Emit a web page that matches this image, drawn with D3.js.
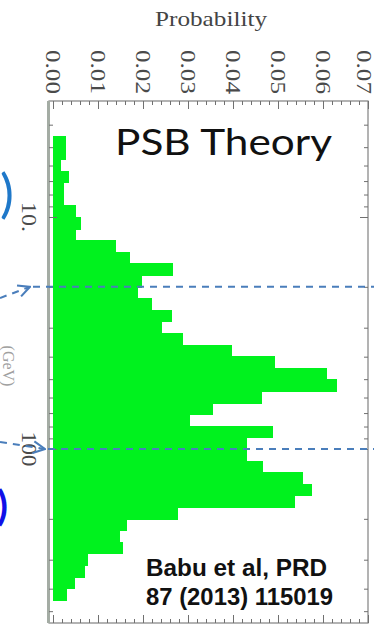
<!DOCTYPE html>
<html><head><meta charset="utf-8">
<script src="https://cdn.jsdelivr.net/npm/d3@7"></script>
<style>html,body{margin:0;padding:0;background:#fff;overflow:hidden}</style>
</head><body><svg id="c" width="374" height="625"></svg>
<script>
// ---- data ----
const binEdgesLog10 = [0.65,0.70,0.75,0.80,0.85,0.90,0.95,1.00,1.05,1.10,1.15,1.20,1.25,1.30,1.35,1.40,1.45,1.50,1.55,1.60,1.65,1.70,1.75,1.80,1.85,1.90,1.95,2.00,2.05,2.10,2.15,2.20,2.25,2.30,2.35,2.40,2.45,2.50,2.55,2.60,2.65];
const probability = [0.0029,0.0029,0.0018,0.0036,0.0024,0.0024,0.0051,0.0062,0.0051,
  0.0140,0.0171,0.0267,0.0198,0.0189,0.0220,0.0264,0.0242,0.0289,
  0.0398,0.0493,0.0609,0.0631,0.0464,0.0356,0.0304,0.0489,
  0.0431,0.0431,0.0467,0.0556,0.0576,0.0538,0.0278,
  0.0164,0.0149,0.0156,0.0078,0.0071,0.0049,0.0031];
const probTicks = [0,0.01,0.02,0.03,0.04,0.05,0.06,0.07];
const probTickLabels = ["0.00","0.01","0.02","0.03","0.04","0.05","0.06","0.07"];
const probMinorTicks = [0.002,0.004,0.006,0.008,0.012,0.014,0.016,0.018,0.022,0.024,0.026,0.028,0.032,0.034,0.036,0.038,0.042,0.044,0.046,0.048,0.052,0.054,0.056,0.058,0.062,0.064,0.066,0.068];
const massTicks = [10,100];
const massTickLabels = ["10.","100"];
const massMinorTicks = [4,5,6,7,8,9,20,30,40,50,60,70,80,90,200,300,400,500];
const markerMasses = [20,100];
const massDomainLog10 = [0.5,2.75];

// ---- scales ----
const svg = d3.select("#c");
const x = d3.scaleLinear().domain([0,0.07]).range([53,368]);
const y = d3.scaleLog().domain(massDomainLog10.map(v=>Math.pow(10,v))).range([101,623]);

// bars
const bins = probability.map((p,i)=>({p, lo:Math.pow(10,binEdgesLog10[i]), hi:Math.pow(10,binEdgesLog10[i+1])}));
svg.append("g").attr("shape-rendering","crispEdges").selectAll("rect").data(bins).join("rect")
  .attr("x", x(0)).attr("y", d=>Math.round(y(d.lo)))
  .attr("width", d=>x(d.p)-x(0)).attr("height", d=>Math.round(y(d.hi))-Math.round(y(d.lo))+1)
  .attr("fill","#00f21e");

// frame
svg.append("rect").attr("x",49).attr("y",101).attr("width",319).attr("height",522)
  .attr("fill","none").attr("stroke","#808080").attr("stroke-width",1.2);
svg.append("line").attr("x1",48.5).attr("x2",48.5).attr("y1",101).attr("y2",623)
  .attr("stroke","#a4aca4").attr("stroke-width",3);

function styleAxis(g){ g.select(".domain").remove(); g.selectAll("line").attr("stroke","#707070"); }
// top / bottom ticks (inward)
svg.append("g").attr("transform","translate(0,101)").call(d3.axisBottom(x).tickValues(probMinorTicks).tickSize(4).tickFormat("")).call(styleAxis);
svg.append("g").attr("transform","translate(0,101)").call(d3.axisBottom(x).tickValues(probTicks).tickSize(8).tickFormat("")).call(styleAxis);
svg.append("g").attr("transform","translate(0,623)").call(d3.axisTop(x).tickValues(probMinorTicks).tickSize(4).tickFormat("")).call(styleAxis);
svg.append("g").attr("transform","translate(0,623)").call(d3.axisTop(x).tickValues(probTicks).tickSize(8).tickFormat("")).call(styleAxis);
// left / right ticks (inward)
svg.append("g").attr("transform","translate(49,0)").call(d3.axisRight(y).tickValues(massMinorTicks).tickSize(4).tickFormat("")).call(styleAxis);
svg.append("g").attr("transform","translate(49,0)").call(d3.axisRight(y).tickValues(massTicks).tickSize(8).tickFormat("")).call(styleAxis);
svg.append("g").attr("transform","translate(368,0)").call(d3.axisLeft(y).tickValues(massMinorTicks).tickSize(4).tickFormat("")).call(styleAxis);
svg.append("g").attr("transform","translate(368,0)").call(d3.axisLeft(y).tickValues(massTicks).tickSize(8).tickFormat("")).call(styleAxis);

// tick labels (rotated)
svg.append("g").selectAll("text").data(probTicks).join("text")
  .attr("transform", d=>`translate(${Math.min(x(d),364)},50) rotate(90)`)
  .attr("dy","0.35em").attr("text-anchor","start")
  .attr("font-family","'Liberation Serif',serif").attr("font-size",20).attr("fill","#4a4a4a")
  .attr("textLength",44).attr("lengthAdjust","spacingAndGlyphs")
  .text((d,i)=>probTickLabels[i]);
svg.append("g").selectAll("text").data(massTicks).join("text")
  .attr("transform", d=>`translate(29,${y(d)}) rotate(90)`)
  .attr("dy","0.35em").attr("text-anchor","middle")
  .attr("font-family","'Liberation Serif',serif").attr("font-size",20).attr("fill","#4a4a4a")
  .attr("textLength",(d,i)=>i===0?30:35).attr("lengthAdjust","spacingAndGlyphs")
  .text((d,i)=>massTickLabels[i]);

// axis titles
svg.append("text").attr("x",211).attr("y",26).attr("text-anchor","middle")
  .attr("font-family","'Liberation Serif',serif").attr("font-size",22).attr("fill","#444")
  .attr("textLength",112).attr("lengthAdjust","spacingAndGlyphs").text("Probability");
svg.append("text").attr("transform","translate(9,366) rotate(90)").attr("dy","0.35em").attr("text-anchor","middle")
  .attr("font-family","'Liberation Serif',serif").attr("font-size",16).attr("fill","#a0a0a0").text("(GeV)");

// marker lines with arrows
const defs = svg.append("defs");
defs.append("marker").attr("id","arr").attr("viewBox","0 0 12 12").attr("refX",11).attr("refY",6)
  .attr("markerWidth",14).attr("markerHeight",14).attr("markerUnits","userSpaceOnUse").attr("orient","auto")
  .append("path").attr("d","M1,1 L11,6 L1,11").attr("fill","none").attr("stroke","#4a7ebb").attr("stroke-width",1.8);
const arrowStarts = [[0,298,30],[0,442,45]];
markerMasses.forEach((m,i)=>{
  const [sx,sy,tx] = arrowStarts[i];
  svg.append("line").attr("x1",sx).attr("y1",sy).attr("x2",tx).attr("y2",y(m))
    .attr("stroke","#4a7ebb").attr("stroke-width",2).attr("stroke-dasharray","7,6").attr("marker-end","url(#arr)");
  svg.append("line").attr("x1",tx+3).attr("x2",374).attr("y1",y(m)).attr("y2",y(m))
    .attr("stroke","#4a7ebb").attr("stroke-width",2).attr("stroke-dasharray","7,6");
});

// annotations
svg.append("text").attr("x",115).attr("y",155).attr("font-family","Lato,'Open Sans',sans-serif")
  .attr("font-size",37).attr("fill","#111").attr("textLength",217).attr("lengthAdjust","spacingAndGlyphs").text("PSB Theory");
svg.append("text").attr("x",146).attr("y",576).attr("font-family","'Liberation Sans',Arial,sans-serif").attr("font-weight","bold")
  .attr("font-size",23).attr("fill","#111").attr("textLength",181).attr("lengthAdjust","spacingAndGlyphs").text("Babu et al,  PRD");
svg.append("text").attr("x",146).attr("y",605).attr("font-family","'Liberation Sans',Arial,sans-serif").attr("font-weight","bold")
  .attr("font-size",23).attr("fill","#111").attr("textLength",187).attr("lengthAdjust","spacingAndGlyphs").text("87 (2013) 115019");
svg.append("text").attr("x",0).attr("y",212).attr("font-family","Lato,sans-serif").attr("font-size",52).attr("fill","#1f78c9").text(")");
svg.append("text").attr("x",-3).attr("y",520).attr("font-family","Lato,sans-serif").attr("font-weight","bold").attr("font-size",40).attr("fill","#1010e8").text(")");
</script></body></html>
